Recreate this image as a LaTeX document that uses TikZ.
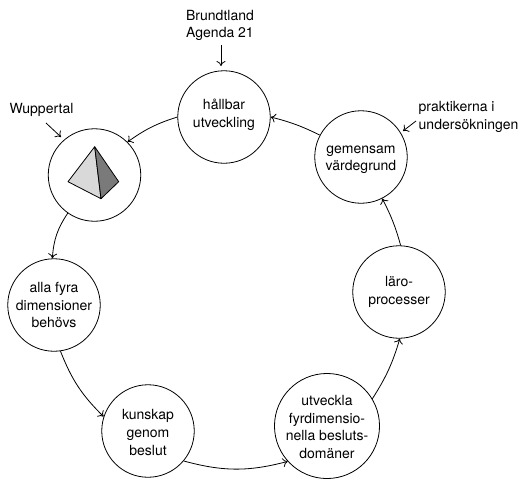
\documentclass[tikz,border=0pt]{standalone}
\usepackage{fontspec}
\setmainfont{TeX Gyre Heros}
\usetikzlibrary{arrows.meta}
\tikzset{
  ring/.style={draw=black,circle,inner sep=0pt,minimum size=92.5pt,align=center,font=\fontsize{14}{17.6}\selectfont,line width=0.8pt},
  note/.style={inner sep=0pt,font=\fontsize{14}{17.6}\selectfont},
  link/.style={draw=black,line width=0.8pt,-{To[length=5pt,width=9pt]}}
}
\begin{document}
\begin{tikzpicture}[x=1pt,y=-1pt]
\useasboundingbox (0,0) rectangle (519,479);
\node [ring] (hallbar) at (224,117) {hållbar\\utveckling\rule[-8pt]{0pt}{8pt}};
\node [ring] (pyr) at (94.5,175) {};
\node [ring] (alla) at (54,305) {alla fyra\\dimensioner\\behövs};
\node [ring] (kunskap) at (148,431) {\rule{0pt}{13pt}kunskap\\genom\\beslut};
\node [ring] (utveckla) at (327,426) {\rule{0pt}{12pt}utveckla\\fyrdimensio-\\nella besluts-\\domäner};
\node [ring] (laro) at (399,292) {läro-\\processer};
\node [ring] (gemensam) at (361,157) {\rule{0pt}{13pt}gemensam\\värdegrund};
% texts outside the ring
\node [note,align=center] (brundtland) at (220,25.5) {Brundtland\\Agenda 21};
\node [note] (wuppertal) at (41.5,110) {Wuppertal};
\node [note,align=left,anchor=west] (praktik) at (418.5,117) {praktikerna i\\undersökningen};
\coordinate (wupstart) at (46,123);
\coordinate (wupend) at (61,137);
\coordinate (prastart) at (416,121);
\coordinate (praend) at (403,131);
\coordinate (brustart) at (221,45);
\coordinate (bruend) at (221,66);
% the pyramid
\coordinate (top) at (94.7,146.7);
\coordinate (left) at (68,181.7);
\coordinate (front) at (101,198.7);
\coordinate (right) at (118.7,181.7);
\draw [black,line width=0.8pt,line join=round,fill=black!15] (top) -- (left) -- (front) -- cycle;
\draw [black,line width=0.8pt,line join=round,fill=black!52] (top) -- (right) -- (front) -- cycle;
% the ring
\draw [link] (hallbar.180) to[bend right=9] (pyr.45);
\draw [link] (pyr.235) to[bend right=15] (alla.92);
\draw [link] (alla.278) to[bend right=12] (kunskap.162);
\draw [link] (kunskap.-40) to[bend right=15] (utveckla.222);
\draw [link] (utveckla.31) to[bend right=8] (laro.271);
\draw [link] (laro.88) to[bend right=6] (gemensam.-63);
\draw [link] (gemensam.152) to[bend right=6] (hallbar.0);
% the small arrows
\draw [link] (brustart) -- (bruend);
\draw [link] (wupstart) -- (wupend);
\draw [link] (prastart) -- (praend);
\end{tikzpicture}
\end{document}
